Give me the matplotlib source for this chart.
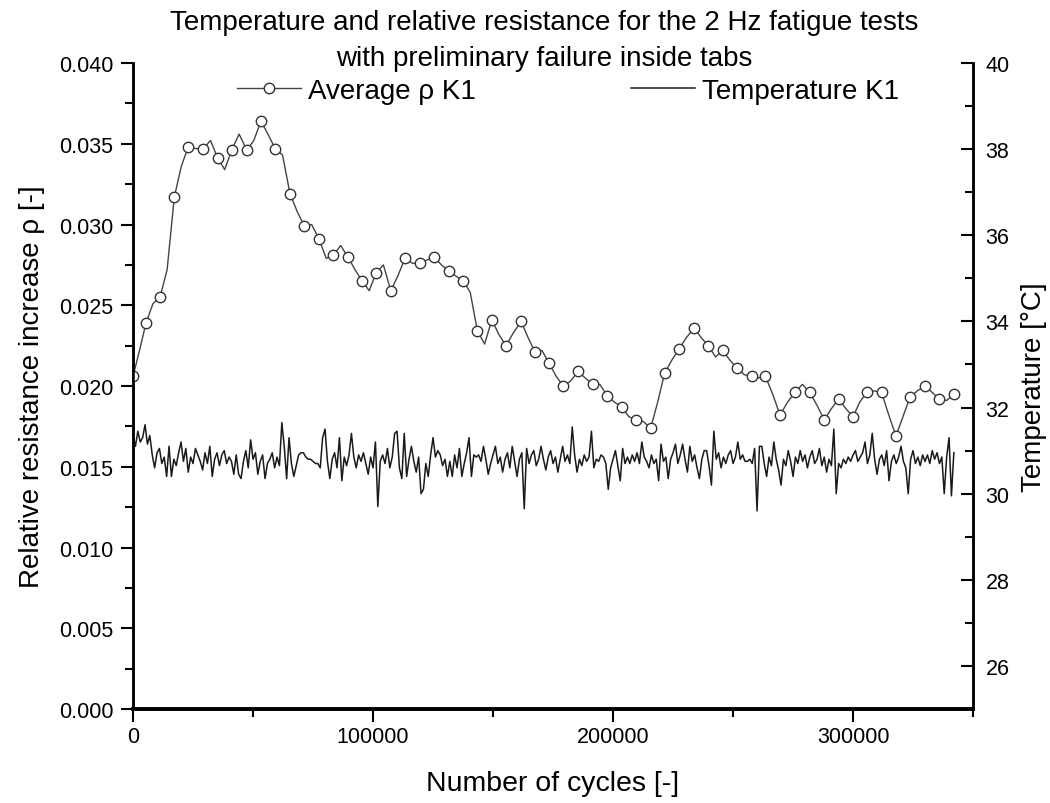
import numpy as np
import matplotlib
matplotlib.use("Agg")
import matplotlib.pyplot as plt
from matplotlib.ticker import MultipleLocator, FormatStrFormatter

# Average relative resistance K1: marker points and the line points between them
cycles_rho = [0, 2700, 5400, 8300, 11250, 14200, 17200, 20100, 23000, 26100,
              29300, 32300, 35300, 38200, 41100, 44200, 47400, 50300, 53300, 56200,
              59200, 62300, 65400, 68400, 71400, 74400, 77500, 80500, 83500, 86500,
              89500, 92500, 95500, 98400, 101250, 104300, 107400, 110300, 113300, 116400,
              119600, 122500, 125400, 128500, 131700, 134600, 137600, 140500, 143500, 146500,
              149500, 152400, 155400, 158500, 161700, 164600, 167500, 170400, 173400, 176300,
              179300, 182300, 185400, 188400, 191500, 194500, 197600, 200600, 203600, 206600,
              209600, 212600, 215700, 218600, 221500, 224500, 227500, 230600, 233800, 236700,
              239700, 242700, 245700, 248700, 251700, 254700, 257800, 260600, 263500, 266500,
              269600, 272700, 275800, 278900, 282000, 285000, 288000, 291000, 294000, 297000,
              300000, 302800, 305700, 308800, 311900, 314900, 317900, 320800, 323700, 326800,
              330000, 333000, 336000, 339000, 342100]
rho = [0.0206, 0.0222, 0.0239, 0.0251, 0.0255, 0.0272, 0.0317, 0.0336, 0.0348, 0.0347,
       0.0347, 0.0352, 0.0341, 0.0334, 0.0346, 0.0356, 0.0346, 0.0352, 0.0364, 0.0356,
       0.0347, 0.0343, 0.0319, 0.0308, 0.0299, 0.0300, 0.0291, 0.0279, 0.0281, 0.0287,
       0.0280, 0.0272, 0.0265, 0.0259, 0.0270, 0.0275, 0.0259, 0.0268, 0.0279, 0.0276,
       0.0276, 0.0278, 0.0280, 0.0275, 0.0271, 0.0268, 0.0265, 0.0258, 0.0234, 0.0226,
       0.0241, 0.0232, 0.0225, 0.0233, 0.0240, 0.0230, 0.0221, 0.0222, 0.0214, 0.0206,
       0.0200, 0.0203, 0.0209, 0.0205, 0.0201, 0.0201, 0.0194, 0.0190, 0.0187, 0.0181,
       0.0179, 0.0178, 0.0174, 0.0190, 0.0208, 0.0216, 0.0223, 0.0230, 0.0236, 0.0230,
       0.0225, 0.0218, 0.0222, 0.0216, 0.0211, 0.0207, 0.0206, 0.0205, 0.0206, 0.0195,
       0.0182, 0.0190, 0.0196, 0.0201, 0.0196, 0.0188, 0.0179, 0.0186, 0.0192, 0.0186,
       0.0181, 0.0190, 0.0196, 0.0197, 0.0196, 0.0182, 0.0169, 0.0181, 0.0193, 0.0197,
       0.0200, 0.0196, 0.0192, 0.0191, 0.0195]

# Temperature K1, one reading every 1000 cycles
temp_step = 1000
temperature = [
    31.35, 31.1, 31.45, 31.2, 31.3, 31.6, 31.15, 31.35, 30.9, 30.6,
    30.95, 31.05, 30.7, 30.85, 30.4, 31.1, 30.4, 30.8, 30.65, 30.95,
    31.2, 30.75, 31.05, 30.5, 30.85, 30.7, 31.05, 30.9, 30.75, 30.55,
    30.95, 30.7, 31.1, 30.4, 30.8, 30.95, 30.65, 30.9, 31.0, 30.7,
    30.85, 30.75, 30.45, 30.9, 30.45, 30.35, 30.75, 31.0, 30.6, 31.25,
    30.8, 30.95, 30.45, 30.75, 30.9, 30.35, 30.7, 30.8, 30.95, 30.6,
    30.85, 30.65, 31.65, 31.1, 30.35, 31.3, 30.7, 30.4, 30.65, 30.9,
    30.95, 30.95, 30.85, 30.8, 30.8, 30.75, 30.7, 30.7, 30.6, 31.3,
    31.5, 30.75, 30.35, 30.8, 30.95, 30.6, 31.3, 30.3, 30.85, 30.65,
    30.9, 31.4, 30.85, 30.6, 30.9, 30.75, 30.95, 30.7, 30.45, 30.85,
    30.6, 31.2, 29.7, 30.75, 30.9, 30.7, 31.05, 30.6, 30.85, 31.4,
    31.45, 30.6, 30.35, 31.4, 30.4, 30.8, 31.1, 30.75, 30.5, 30.85,
    30.0, 30.1, 30.7, 30.4, 30.9, 31.3, 30.85, 31.0, 30.9, 30.65,
    30.8, 30.4, 30.75, 30.4, 30.9, 30.6, 31.05, 30.4, 30.7, 30.95,
    31.3, 30.4, 30.9, 30.85, 30.9, 30.75, 31.1, 30.8, 30.45, 30.7,
    30.9, 31.1, 30.7, 30.85, 30.5, 30.8, 30.95, 30.6, 31.1, 30.75,
    30.4, 30.8, 30.95, 29.65, 31.05, 30.7, 30.9, 31.0, 30.65, 30.8,
    31.1, 30.8, 30.55, 30.85, 31.0, 30.7, 30.85, 30.5, 30.8, 31.1,
    30.75, 30.9, 30.7, 31.55, 30.9, 30.5, 30.8, 30.65, 30.9, 30.75,
    30.85, 31.45, 30.6, 30.8, 30.75, 30.9, 30.85, 30.7, 30.1, 30.6,
    30.8, 31.0, 30.65, 30.3, 31.05, 30.7, 30.85, 30.7, 30.9, 30.75,
    30.95, 30.7, 31.2, 30.85, 30.75, 30.6, 30.9, 30.7, 30.8, 30.3,
    31.15, 30.75, 30.85, 30.35, 30.8, 30.95, 31.15, 30.7, 30.9, 31.15,
    30.8, 30.5, 31.1, 30.75, 30.9, 30.6, 30.35, 30.8, 31.0, 31.0,
    30.65, 30.2, 31.45, 30.8, 30.95, 30.6, 30.85, 30.7, 30.9, 31.0,
    30.7, 30.85, 31.2, 30.8, 30.9, 30.75, 30.75, 30.8, 30.7, 31.05,
    29.6, 31.1, 31.1, 30.7, 30.4, 30.85, 30.65, 31.2, 30.8, 30.55,
    30.2, 30.8, 30.65, 31.0, 30.75, 30.4, 30.85, 30.7, 31.0, 30.75,
    30.9, 30.6, 30.85, 31.0, 30.7, 30.8, 31.05, 30.65, 30.85, 30.5,
    30.8, 30.65, 31.5, 30.0, 30.7, 30.6, 30.8, 30.7, 30.85, 30.75,
    30.9, 31.0, 30.75, 30.85, 30.95, 31.2, 30.7, 30.9, 31.4, 30.8,
    30.45, 30.8, 30.9, 30.65, 31.0, 30.3, 30.75, 30.9, 30.7, 30.85,
    31.1, 30.75, 30.6, 30.0, 30.8, 31.0, 30.7, 30.85, 30.65, 30.9,
    30.75, 30.9, 30.7, 31.0, 30.8, 30.95, 30.7, 30.85, 30.0, 30.85,
    31.3, 29.95, 30.95]
cycles_temp = np.arange(len(temperature)) * temp_step

title = "Temperature and relative resistance for the 2 Hz fatigue tests\nwith preliminary failure inside tabs"

plt.rcParams["font.family"] = ["Liberation Sans", "DejaVu Sans"]

fig = plt.figure(figsize=(10.5, 8.04), dpi=100)
ax = fig.add_axes([0.1267, 0.1169, 0.8, 0.8035])
ax2 = ax.twinx()

line_rho, = ax.plot(cycles_rho, rho, color="#444444", lw=1.0, marker="o",
                    markevery=2, markersize=7.5, markerfacecolor="white",
                    markeredgecolor="#333333", markeredgewidth=1.0,
                    label="Average \u03c1 K1", zorder=3)
line_t, = ax2.plot(cycles_temp, temperature, color="#1a1a1a", lw=1.1,
                   label="Temperature K1")

ax.set_xlim(0, 350000)
ax.set_ylim(0, 0.040)
ax2.set_ylim(25, 40)

ax.xaxis.set_major_locator(MultipleLocator(100000))
ax.xaxis.set_minor_locator(MultipleLocator(50000))
ax.yaxis.set_major_locator(MultipleLocator(0.005))
ax.yaxis.set_minor_locator(MultipleLocator(0.0025))
ax.yaxis.set_major_formatter(FormatStrFormatter("%.3f"))
ax2.yaxis.set_major_locator(MultipleLocator(2))
ax2.yaxis.set_minor_locator(MultipleLocator(1))

for a in (ax, ax2):
    a.spines["top"].set_visible(False)
    a.spines["left"].set_linewidth(1.8)
    a.spines["right"].set_linewidth(1.8)
    a.spines["bottom"].set_linewidth(2.6)

ax.tick_params(axis="both", which="major", direction="out", length=9, width=1.5,
               labelsize=15.5)
ax.tick_params(axis="y", which="major", pad=5)
ax.tick_params(axis="both", which="minor", direction="out", length=5.5, width=1.5)
ax.tick_params(axis="y", right=False)
ax2.tick_params(axis="y", which="major", direction="in", length=9, width=1.5,
                labelsize=15.5, pad=9)
ax2.tick_params(axis="y", which="minor", direction="in", length=5.5, width=1.5)

ax.set_xlabel("Number of cycles [-]", fontsize=20.5, labelpad=16)
ax.set_ylabel("Relative resistance increase \u03c1 [-]", fontsize=20, labelpad=10)
ax2.set_ylabel("Temperature [\u00b0C]", fontsize=20, labelpad=8)

fig.text(0.518, 0.9496, title, ha="center", va="center", fontsize=20,
         linespacing=1.5)

ax.legend([line_rho, line_t], [line_rho.get_label(), line_t.get_label()],
          loc="center", bbox_to_anchor=(0.541, 0.8856), bbox_transform=fig.transFigure,
          ncol=2, frameon=False, handlelength=2.3,
          handletextpad=0.25, columnspacing=5.6, prop={"size": 20})

fig.savefig("out.png", dpi=100)
